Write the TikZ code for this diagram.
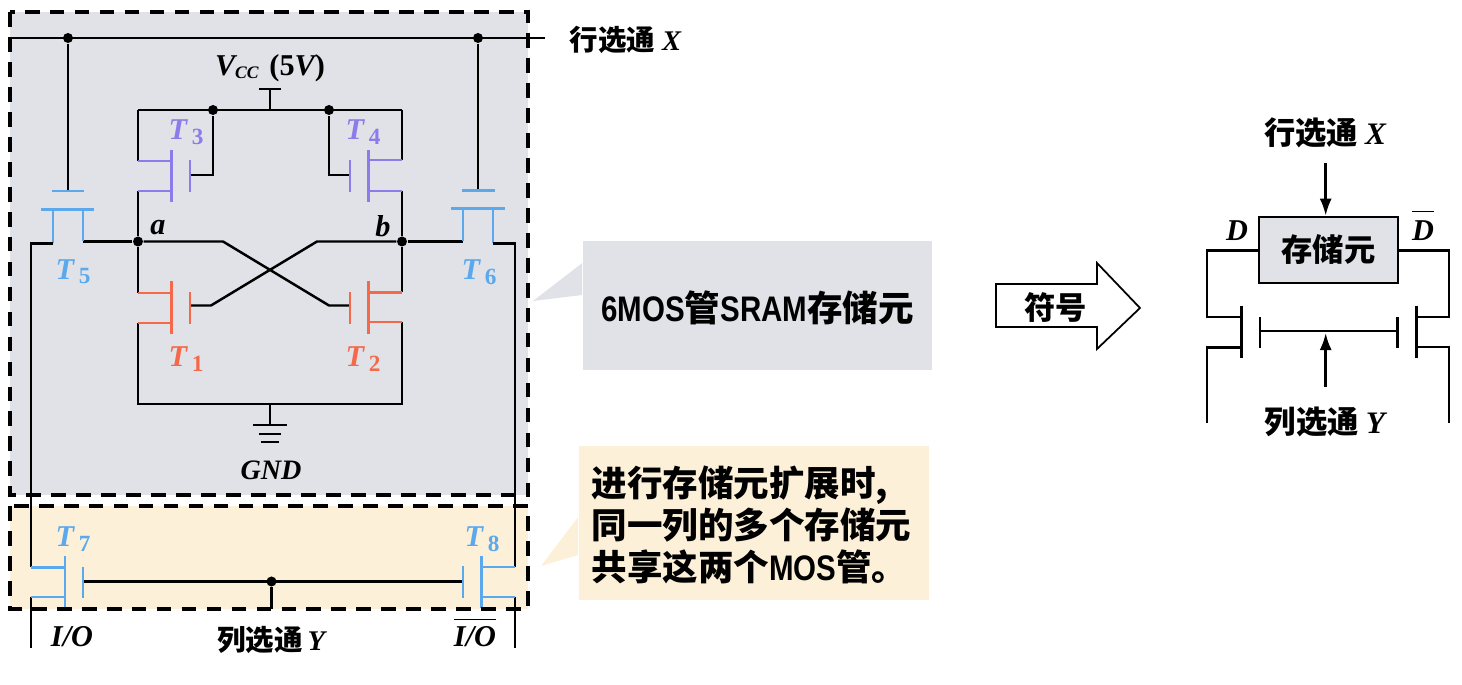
\documentclass[tikz,border=0pt]{standalone}
\usepackage{amsmath}
\usepackage{amssymb}
\usepackage{xcolor}
\usepackage{fontspec}
\usepackage{tikz}
\usetikzlibrary{arrows.meta,positioning}
\newfontfamily\cjk{Noto Sans CJK SC}
\newfontfamily\narrowlat[FakeStretch=0.83]{Liberation Sans}
\newfontfamily\symfont{Liberation Serif}
\newcommand{\symit}[1]{\text{\symfont\bfseries\itshape #1}}
\newcommand{\symup}[1]{\text{\symfont\bfseries #1}}
\DeclareMathSizes{8.6}{8.6}{6.6}{5}
\definecolor{cellgray}{HTML}{E1E2E8}
\definecolor{cellcream}{HTML}{FDF0D9}
\definecolor{mosblue}{HTML}{5BA9EC}
\definecolor{mospurple}{HTML}{8A7CEB}
\definecolor{mosred}{HTML}{F4694A}

\begin{document}
\begin{tikzpicture}[
  x=0.01cm, y=-0.01cm,
  wire/.style={line width=0.7pt, line join=miter},
  bluewire/.style={line width=0.85pt, mosblue},
  purplewire/.style={line width=0.85pt, mospurple},
  redwire/.style={line width=0.85pt, mosred},
  dashbox/.style={line width=0.9pt, dash pattern=on 4.2pt off 2.9pt},
  dotnode/.style={circle, fill=black, inner sep=0pt, minimum size=0.1cm},
  tlabel/.style={font=\fontsize{8.6}{10}\selectfont, inner sep=0pt},
  cnlabel/.style={font=\fontsize{8.1}{10}\selectfont\cjk\bfseries, inner sep=0pt},
  cnlarge/.style={font=\fontsize{8.9}{11}\selectfont\cjk\bfseries, inner sep=0pt},
  cnnote/.style={font=\fontsize{10.1}{11.95}\selectfont\cjk\bfseries, inner sep=0pt},
  arr/.style={wire, -{Latex[length=0.17cm, width=0.12cm]}}
]
  \useasboundingbox (0,0) rectangle (1462,685);

  % shaded regions and callouts
  \fill[cellgray] (10,12) rectangle (528,495);
  \fill[cellcream] (10,506) rectangle (528,609);
  \node[fill=cellgray, minimum width=3.49cm, minimum height=1.29cm, inner sep=0pt] (grayco) at (757.5,305.5) {};
  \node[fill=cellcream, minimum width=3.5cm, minimum height=1.54cm, inner sep=0pt] (creamco) at (754,523) {};
  \coordinate (graytip) at (533,301);
  \coordinate (creamtip) at (541,566);
  \fill[cellgray] (graytip) -- (grayco.west |- 0,263) -- (grayco.west |- 0,295) -- cycle;
  \fill[cellcream] (creamtip) -- (creamco.west |- 0,517) -- (creamco.west |- 0,555) -- cycle;

  % word line and pass gates
  \coordinate (xl) at (10,38);
  \coordinate (xr) at (545,38);
  \node[dotnode] (xa) at (68,38) {};
  \node[dotnode] (xb) at (478,38) {};
  \draw[wire] (xl) -- (xr);

  % supply rail
  \coordinate (tl) at (138,110);
  \coordinate (tr) at (402,110);
  \node[dotnode] (vl) at (213,110) {};
  \node[dotnode] (vr) at (329,110) {};
  \coordinate (vcc) at (270,89);
  \draw[wire] (tl) -- (tr);
  \draw[wire] (vcc) -- (vcc |- tl);
  \draw[wire] ([xshift=-0.11cm]vcc) -- ([xshift=0.11cm]vcc);

  % storage nodes
  \node[dotnode] (na) at (138,241.5) {};
  \node[dotnode] (nb) at (402,241.5) {};

  % T3 and T4
  \coordinate (t3d) at (138,161);
  \coordinate (t3s) at (138,191);
  \coordinate (t3g) at (190,175);
  \coordinate (t4d) at (402,160);
  \coordinate (t4s) at (402,191);
  \coordinate (t4g) at (350,175);
  \draw[wire] (tl) -- (t3d);
  \draw[wire] (t3s) -- (na);
  \draw[wire] (t3g) -| (vl);
  \draw[wire] (tr) -- (t4d);
  \draw[wire] (t4s) -- (nb);
  \draw[wire] (t4g) -| (vr);
  \draw[purplewire] (t3d) -- ++(34,0) (t3s) -- ++(34,0) (171.5,150) -- (171.5,202) (190,160) -- (190,192);
  \draw[purplewire] (t4d) -- ++(-34,0) (t4s) -- ++(-34,0) (368.5,150) -- (368.5,202) (350,160) -- (350,192);

  % T1 and T2, cross coupled
  \coordinate (t1d) at (138,293);
  \coordinate (t1s) at (138,323);
  \coordinate (t1g) at (190,305.5);
  \coordinate (t2d) at (402,292.5);
  \coordinate (t2s) at (402,322);
  \coordinate (t2g) at (350,305.5);
  \coordinate (gndl) at (138,404);
  \coordinate (gndr) at (402,404);
  \coordinate (gnd) at (270,425);
  \draw[wire] (na) -- (t1d);
  \draw[wire] (nb) -- (t2d);
  \draw[wire] (t1s) -- (gndl) -- (gndr) -- (t2s);
  \draw[wire] (t1g) -- (211,305.5) -- (317,241.5) -- (nb);
  \draw[wire] (na) -- (223,241.5) -- (329,305.5) -- (t2g);
  \draw[redwire] (t1d) -- ++(34,0) (t1s) -- ++(34,0) (171.5,281) -- (171.5,334) (190,292) -- (190,324);
  \draw[redwire] (t2d) -- ++(-34,0) (t2s) -- ++(-34,0) (368.5,281) -- (368.5,334) (350,292) -- (350,324);

  % ground symbol
  \draw[wire] (gnd |- gndl) -- (gnd);
  \draw[wire] ([xshift=-0.17cm]gnd) -- ([xshift=0.17cm]gnd);
  \draw[wire] ([xshift=-0.11cm,yshift=-0.09cm]gnd) -- ([xshift=0.11cm,yshift=-0.09cm]gnd);
  \draw[wire] ([xshift=-0.09cm,yshift=-0.17cm]gnd) -- ([xshift=0.09cm,yshift=-0.17cm]gnd);

  % T5 and T6
  \coordinate (t5g) at (68,191);
  \coordinate (t5l) at (53,243.5);
  \coordinate (t5r) at (83,241.5);
  \coordinate (t6g) at (478,190.5);
  \coordinate (t6l) at (463,241.5);
  \coordinate (t6r) at (493,243.5);
  \draw[wire] (xa) -- (t5g);
  \draw[wire] (xb) -- (t6g);
  \draw[wire] (t5r) -- (na);
  \draw[wire] (nb) -- (t6l);
  \draw[bluewire] (52,191) -- (84,191) (41,209.5) -- (94,209.5) (t5l |- 0,209.5) -- (t5l) (t5r |- 0,209.5) -- (t5r);
  \draw[bluewire] (462,190.5) -- (495,190.5) (451,208.5) -- (505,208.5) (t6l |- 0,208.5) -- (t6l) (t6r |- 0,208.5) -- (t6r);

  % T7 and T8, column line
  \coordinate (t7d) at (31,567.5);
  \coordinate (t7s) at (31,597);
  \coordinate (t7g) at (83,581.5);
  \coordinate (t8d) at (515,567);
  \coordinate (t8s) at (515,597);
  \coordinate (t8g) at (463,581.5);
  \coordinate (iol) at (31,648);
  \coordinate (ior) at (515,648);
  \coordinate (yin) at (271.5,609);
  \node[dotnode] (ya) at (271.5,581.5) {};
  \draw[wire] (t5l) -| (t7d);
  \draw[wire] (t6r) -| (t8d);
  \draw[wire] (t7s) -- (iol);
  \draw[wire] (t8s) -- (ior);
  \draw[wire] (t7g) -- (t8g);
  \draw[wire] (ya) -- (yin);
  \draw[bluewire] (t7d) -- ++(34,0) (t7s) -- ++(34,0) (65,556) -- (65,608) (83,567) -- (83,598);
  \draw[bluewire] (t8d) -- ++(-34,0) (t8s) -- ++(-34,0) (481.5,556) -- (481.5,608) (463,566) -- (463,598);

  % dashed frames
  \draw[dashbox] (10,12) rectangle (528,495);
  \draw[dashbox] (10,506) rectangle (528,609);

  % circuit labels
  \node[cnlabel, anchor=west] (xlabel) at (569,40) {行选通\hspace{0.07cm}$\symit{X}$};
  \node[tlabel] (vcclabel) at (270,68) {$\symit{V}_{\scriptscriptstyle\symit{CC}}\;\symup{(5}\symit{V}\symup{)}$};
  \node[tlabel] (alabel) at (158,228) {$\symit{a}$};
  \node[tlabel] (blabel) at (383,226) {$\symit{b}$};
  \node[tlabel, text=mospurple] (t3label) at (187,132) {$\symit{T}_{\,\symup{3}}$};
  \node[tlabel, text=mospurple] (t4label) at (364,132) {$\symit{T}_{\,\symup{4}}$};
  \node[tlabel, text=mosblue] (t5label) at (74,272) {$\symit{T}_{\,\symup{5}}$};
  \node[tlabel, text=mosblue] (t6label) at (480,272) {$\symit{T}_{\,\symup{6}}$};
  \node[tlabel, text=mosred] (t1label) at (187,359) {$\symit{T}_{\,\symup{1}}$};
  \node[tlabel, text=mosred] (t2label) at (364,359) {$\symit{T}_{\,\symup{2}}$};
  \node[tlabel, text=mosblue] (t7label) at (74,539) {$\symit{T}_{\,\symup{7}}$};
  \node[tlabel, text=mosblue] (t8label) at (483,539) {$\symit{T}_{\,\symup{8}}$};
  \node[inner sep=0pt, font=\fontsize{8}{10}\selectfont] (gndlabel) at (271,470) {$\symit{GND}$};
  \node[cnlabel] (ylabel) at (271,640) {列选通\hspace{0.05cm}$\symit{Y}$};
  \node[tlabel, anchor=base] (iolabel) at (72,647) {$\symit{I/O}$};
  \node[tlabel, anchor=base] (ionlabel) at (475,647) {$\overline{\rule{0pt}{6.6pt}\symit{I/O}}$};

  % callout texts
  \node[cnnote] (graytext) at (757.5,308) {{\narrowlat 6MOS}管{\narrowlat SRAM}存储元};
  \node[cnnote, align=left, anchor=west] (creamtext) at (591,525) {进行存储元扩展时,\\同一列的多个存储元\\共享这两个{\narrowlat MOS}管。};

  % block arrow to the symbol
  \draw[line width=0.5pt, fill=white] (996,284) -- (1097,284) -- (1097,263) -- (1140,308) -- (1097,349) -- (1097,327) -- (996,327) -- cycle;
  \node[cnlarge] (arrowtext) at (1056,308) {符号};

  % symbol on the right
  \node[draw, line width=0.75pt, fill=cellgray, minimum width=1.39cm, minimum height=0.66cm, inner sep=0pt, font=\fontsize{8.9}{11}\selectfont\cjk\bfseries] (cell) at (1328.5,250) {存储元};
  \node[cnlarge] (xsym) at (1325,133) {行选通\hspace{0.07cm}$\symit{X}$};
  \node[cnlarge] (ysym) at (1325,422) {列选通\hspace{0.07cm}$\symit{Y}$};
  \node[tlabel, anchor=base] (dlabel) at (1237,241) {$\symit{D}$};
  \node[tlabel, anchor=base] (dnlabel) at (1423,241) {$\overline{\rule{0pt}{7.1pt}\symit{D}}$};
  \coordinate (xsrc) at (1325.7,163);
  \coordinate (ysrc) at (1325.7,387);
  \coordinate (ytip) at (1325.7,333);
  \coordinate (cl) at (1207,317);
  \coordinate (cr) at (1449,317);
  \coordinate (dl) at (1207,347.5);
  \coordinate (dr) at (1449,347);
  \coordinate (endl) at (1207,423);
  \coordinate (endr) at (1449,423);
  \coordinate (gl) at (1260,331);
  \coordinate (gr) at (1397.5,331);
  \draw[arr] (xsrc) -- (cell.north -| xsrc);
  \draw[arr] (ysrc) -- (ytip);
  \draw[wire] (cell.west |- 0,250.5) -| (cl) -- (1241.7,317);
  \draw[wire] (cell.east |- 0,250.5) -| (cr) -- (1416.7,317);
  \draw[wire] (1241.7,347.5) -- (dl) -- (endl);
  \draw[wire] (1416.7,347) -- (dr) -- (endr);
  \draw[wire] (gl) -- (gr);
  \draw[wire] (1241.7,306) -- (1241.7,358);
  \draw[wire] (1416.7,306) -- (1416.7,358);
  \draw[wire] (1260,317) -- (1260,348);
  \draw[wire] (1397.5,317) -- (1397.5,348);
\end{tikzpicture}
\end{document}
